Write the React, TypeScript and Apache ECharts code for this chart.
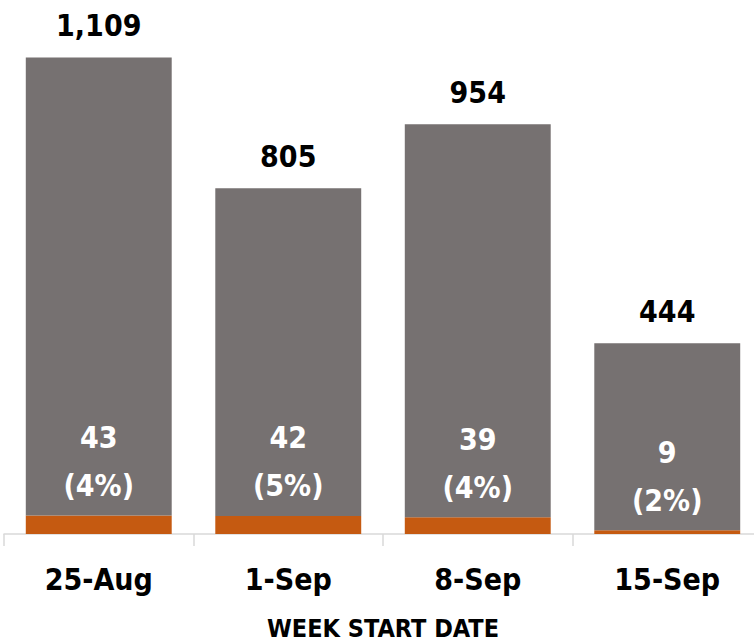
import React, { useEffect, useRef } from "react";
import * as echarts from "echarts";

const categories = ["25-Aug", "1-Sep", "8-Sep", "15-Sep"];
const totals = [1109, 805, 954, 444];
const highlighted = [43, 42, 39, 9];
const axisTitle = "WEEK START DATE";

const FONT = "'DejaVu Sans Condensed', 'Liberation Sans Narrow', sans-serif";
const GRAY = "#767171";
const ORANGE = "#C55A11";

export default function App() {
  const ref = useRef<HTMLDivElement>(null);
  useEffect(() => {
    document.body.style.margin = "0";
    const chart = echarts.init(ref.current!, null, { renderer: "svg" });
    const rest = totals.map((t, i) => t - highlighted[i]);
    chart.setOption({
      animation: false,
      grid: { left: 4, top: 18.5, width: 758, height: 515.5, outerBoundsMode: "none" },
      xAxis: {
        type: "category",
        data: categories,
        boundaryGap: true,
        axisLine: { show: true, lineStyle: { color: "#D9D9D9", width: 1.5 } },
        axisTick: { show: true, length: 12, lineStyle: { color: "#D9D9D9", width: 1.5 } },
        axisLabel: { margin: 30, color: "#000", fontFamily: FONT, fontWeight: "bold", fontSize: 30 },
        name: axisTitle,
        nameLocation: "middle",
        nameGap: 82,
        nameTextStyle: { color: "#000", fontFamily: FONT, fontWeight: "bold", fontSize: 25 },
      },
      yAxis: { type: "value", min: 0, max: 1200, show: false, splitLine: { show: false } },
      series: [
        {
          type: "bar",
          stack: "s",
          data: highlighted,
          barCategoryGap: "23%",
          itemStyle: { color: ORANGE },
          label: {
            show: true,
            position: "top",
            distance: 6,
            color: "#fff",
            fontFamily: FONT,
            fontWeight: "bold",
            fontSize: 30,
            lineHeight: 48,
            formatter: (p: any) =>
              `${highlighted[p.dataIndex]}\n(${Math.round((highlighted[p.dataIndex] / totals[p.dataIndex]) * 100)}%)`,
          },
        },
        {
          type: "bar",
          stack: "s",
          data: rest,
          itemStyle: { color: GRAY },
          label: {
            show: true,
            position: "top",
            distance: 17,
            color: "#000",
            fontFamily: FONT,
            fontWeight: "bold",
            fontSize: 30,
            formatter: (p: any) => totals[p.dataIndex].toLocaleString("en-US"),
          },
        },
      ],
    });
    return () => chart.dispose();
  }, []);
  return <div ref={ref} style={{ width: 754, height: 642 }} />;
}
